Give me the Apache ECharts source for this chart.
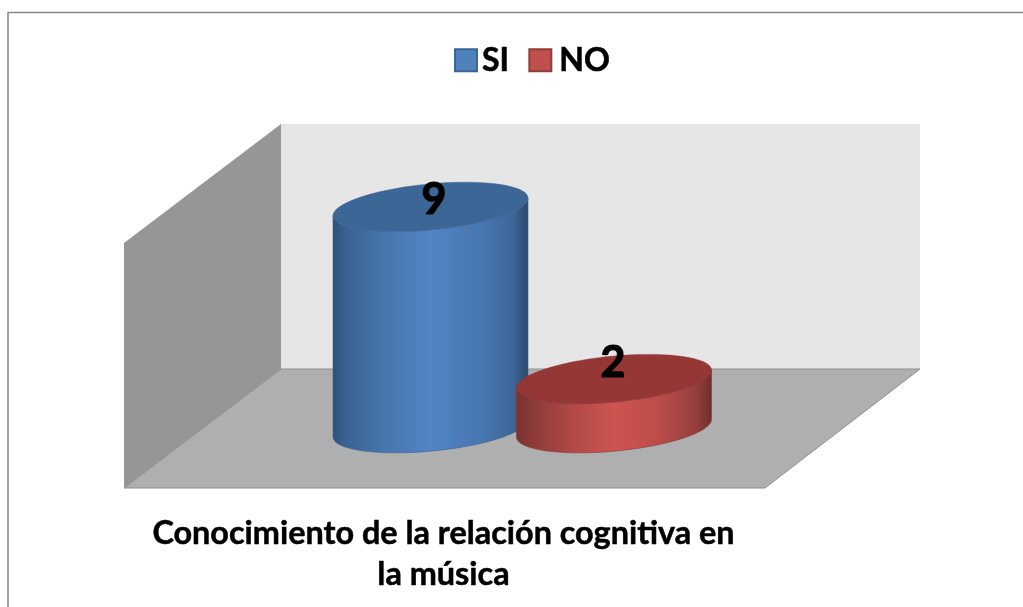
<!DOCTYPE html>
<html><head><meta charset="utf-8">
<style>html,body{margin:0;padding:0;background:#fff}#c{width:1023px;height:607px}</style>
<script src="https://cdn.jsdelivr.net/npm/echarts@6/dist/echarts.min.js"></script>
</head><body><div id="c"></div>
<script>
const categories = ['SI', 'NO'];
const siValues = [9];
const noValues = [2];
const chartTitle = 'Conocimiento de la relación cognitiva en\nla música';

const FONT = 'Lato, "Open Sans", sans-serif';
const RX_RATIO = 0.5313, RY = 23, TILT = 8.8;

function ringPoint(cx, cy, rx, t) {
  return [cx + rx * Math.cos(t), cy - TILT * Math.cos(t) + RY * Math.sin(t)];
}
function makeRender(colors, labelDx, labelDy) {
  return function (params, api) {
    const top = api.coord([api.value(0), api.value(1)]);
    const base = api.coord([api.value(0), 0]);
    const rx = api.size([1, 0])[0] * RX_RATIO;
    const N = 72;
    const lid = [], side = [];
    for (let i = 0; i < N; i++) lid.push(ringPoint(top[0], top[1], rx, 2 * Math.PI * i / N));
    for (let i = 0; i <= N / 2; i++) side.push(ringPoint(base[0], base[1], rx, Math.PI * i / (N / 2)));
    for (let i = N / 2; i >= 0; i--) side.push(ringPoint(top[0], top[1], rx, Math.PI * i / (N / 2)));
    return {
      type: 'group',
      children: [
        { type: 'polygon', shape: { points: side }, style: {
            fill: new echarts.graphic.LinearGradient(0, 0, 1, 0, colors.side),
            stroke: colors.edge, lineWidth: 0.6 } },
        { type: 'polygon', shape: { points: lid }, style: { fill: colors.lid, stroke: colors.edge, lineWidth: 0.4 } },
        { type: 'text', style: {
            text: String(api.value(1)), x: top[0] + labelDx, y: top[1] + labelDy,
            align: 'center', verticalAlign: 'middle',
            font: 'bold 43px ' + FONT, fill: '#000', stroke: '#000', lineWidth: 1.2 } }
      ]
    };
  };
}
const blue = {
  lid: '#3c6696', edge: '#3a6390',
  side: [{offset:0,color:'#2b5078'},{offset:0.06,color:'#386290'},{offset:0.25,color:'#4674ab'},{offset:0.5,color:'#5284c6'},{offset:0.75,color:'#4878b2'},{offset:0.92,color:'#3d6798'},{offset:1,color:'#29476c'}]
};
const red = {
  lid: '#943735', edge: '#8c3432',
  side: [{offset:0,color:'#763230'},{offset:0.12,color:'#933e3b'},{offset:0.3,color:'#b24a47'},{offset:0.5,color:'#cd5451'},{offset:0.72,color:'#bd4d4a'},{offset:0.92,color:'#93403d'},{offset:1,color:'#712e2c'}]
};

const chart = echarts.init(document.getElementById('c'), null, { renderer: 'canvas' });
chart.setOption({
  animation: false,
  backgroundColor: '#fff',
  grid: { left: 338.75, width: 367, top: 182.2, height: 246 },
  xAxis: { type: 'category', data: categories, show: false },
  yAxis: { type: 'value', min: 0, max: 10, show: false },
  legend: {
    left: 449, top: 39, itemWidth: 22, itemHeight: 22, itemGap: 19,
    icon: 'rect', selectedMode: false,
    data: ['SI', { name: 'NO', textStyle: { padding: [0, 0, 0, 3] } }],
    textStyle: { fontFamily: FONT, fontWeight: 'bold', fontSize: 32, color: '#000', textBorderColor: '#000', textBorderWidth: 0.6 }
  },
  title: {
    text: chartTitle, left: 438.5, top: 508.5, textAlign: 'center',
    textStyle: { fontFamily: FONT, fontWeight: 'bold', fontSize: 32.4, lineHeight: 41, color: '#000', textBorderColor: '#000', textBorderWidth: 0.5 }
  },
  graphic: [
    { type: 'polyline', shape: { points: [[8,607],[8,12.5],[1023,12.5]] }, style: { stroke: '#868686', lineWidth: 1.5, fill: null } },
    { type: 'polygon', shape: { points: [[281,124],[920,124],[920,369],[281,369]] }, style: { fill: '#e6e6e6' } },
    { type: 'polygon', shape: { points: [[124,243],[281,124],[281,369],[124,488]] }, style: { fill: '#969696' } },
    { type: 'polygon', shape: { points: [[281,369],[920,369],[765,488],[124,488]] }, style: { fill: '#afafaf', stroke: '#8f8f8f', lineWidth: 1 } }
  ],
  series: [
    { name: 'SI', type: 'custom', coordinateSystem: 'cartesian2d', z: 3,
      itemStyle: { color: '#4f81bd', borderColor: '#3a6595', borderWidth: 1.5 },
      renderItem: makeRender(blue, 3.5, -7),
      data: siValues.map(v => [categories[0], v]) },
    { name: 'NO', type: 'custom', coordinateSystem: 'cartesian2d', z: 4,
      itemStyle: { color: '#c0504d', borderColor: '#8f3e3c', borderWidth: 1.5 },
      renderItem: makeRender(red, -1, -16),
      data: noValues.map(v => [categories[1], v]) }
  ]
});
</script></body></html>
